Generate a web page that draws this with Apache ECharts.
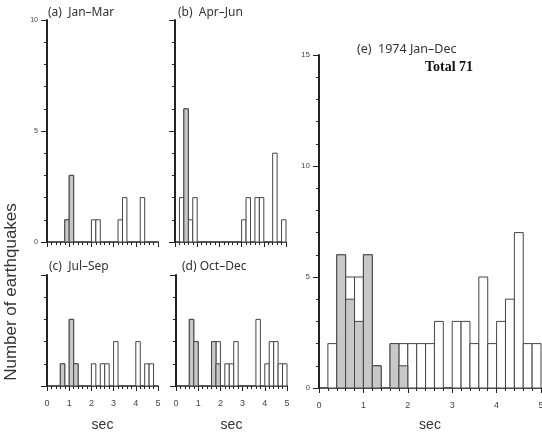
<!DOCTYPE html>
<html>
<head>
<meta charset="utf-8">
<script src="https://cdn.jsdelivr.net/npm/echarts@6/dist/echarts.min.js"></script>
<style>
html,body{margin:0;padding:0;background:#fff;}
#chart{width:542px;height:432px;}
</style>
</head>
<body>
<div id="chart"></div>
<script>
// Bin edges (sec), 0.2 s bins
var binEdges = [0,0.2,0.4,0.6,0.8,1.0,1.2,1.4,1.6,1.8,2.0,2.2,2.4,2.6,2.8,3.0,3.2,3.4,3.6,3.8,4.0,4.2,4.4,4.6,4.8,5.0];
var xTickLabels = ['0','1','2','3','4','5'];

// (a) Jan-Mar
var janMarAll  = [0,0,0,0,1,3,0,0,0,0,1,1,0,0,0,0,1,2,0,0,0,2,0,0,0];
var janMarGray = [0,0,0,0,1,3,0,0,0,0,0,0,0,0,0,0,0,0,0,0,0,0,0,0,0];
// (b) Apr-Jun
var aprJunAll  = [0,2,6,1,2,0,0,0,0,0,0,0,0,0,0,1,2,0,2,2,0,0,4,0,1];
var aprJunGray = [0,0,6,0,0,0,0,0,0,0,0,0,0,0,0,0,0,0,0,0,0,0,0,0,0];
// (c) Jul-Sep
var julSepAll  = [0,0,0,1,0,3,1,0,0,0,1,0,1,1,0,2,0,0,0,0,2,0,1,1,0];
var julSepGray = [0,0,0,1,0,3,1,0,0,0,0,0,0,0,0,0,0,0,0,0,0,0,0,0,0];
// (d) Oct-Dec
var octDecAll  = [0,0,0,3,2,0,0,0,2,2,0,1,1,2,0,0,0,0,3,0,1,2,2,1,1];
var octDecGray = [0,0,0,3,2,0,0,0,2,1,0,0,0,0,0,0,0,0,0,0,0,0,0,0,0];
// (e) 1974 Jan-Dec
var yearAll  = [0,2,6,5,5,6,1,0,2,2,2,2,2,3,0,3,3,2,5,2,3,4,7,2,2];
var yearGray = [0,0,6,4,3,6,1,0,2,1,0,0,0,0,0,0,0,0,0,0,0,0,0,0,0];

var panelTitles = ['(a)  Jan\u2013Mar','(b)  Apr\u2013Jun','(c)  Jul\u2013Sep','(d) Oct\u2013Dec','(e)  1974 Jan\u2013Dec'];
var totalLabel = 'Total 71';
var yTitle = 'Number of earthquakes';
var xTitle = 'sec';

function toRects(counts){
  var out = [];
  for (var i = 0; i < counts.length; i++) {
    if (counts[i] > 0) out.push([binEdges[i], binEdges[i+1], counts[i]]);
  }
  return out;
}

function makeRender(fill){
  return function(params, api){
    var p0 = api.coord([api.value(0), 0]);
    var p1 = api.coord([api.value(1), api.value(2)]);
    return {
      type:'rect',
      shape:{x:p0[0], y:p1[1], width:p1[0]-p0[0], height:p0[1]-p1[1]},
      style:{fill:fill, stroke:'#444', lineWidth:1}
    };
  };
}

var grids = [
  {left:47, top:20, width:111, height:222, outerBoundsMode:'none', containLabel:false},
  {left:175, top:20, width:111, height:222, outerBoundsMode:'none', containLabel:false},
  {left:47, top:275, width:111, height:111, outerBoundsMode:'none', containLabel:false},
  {left:176, top:275, width:111, height:111, outerBoundsMode:'none', containLabel:false},
  {left:319, top:55, width:222, height:333, outerBoundsMode:'none', containLabel:false}
];
var yMax = [10,10,5,5,15];
var showYLabels = [true,false,false,false,true];
var showXLabels = [false,false,true,true,true];

var xAxes = [], yAxes = [], series = [];
var allSets = [janMarAll, aprJunAll, julSepAll, octDecAll, yearAll];
var graySets = [janMarGray, aprJunGray, julSepGray, octDecGray, yearGray];

for (var k = 0; k < 5; k++) {
  xAxes.push({
    gridIndex:k, type:'value', min:0, max:5, interval:1,
    axisLine:{show:true, onZero:false, lineStyle:{color:'#222', width:1.5}},
    axisTick:{show:true, length:5, lineStyle:{color:'#222', width:1}},
    minorTick:{show:true, splitNumber:5, length:3, lineStyle:{color:'#222', width:1}},
    splitLine:{show:false},
    axisLabel:{show:showXLabels[k], fontSize:9, color:'#444', margin:13, fontFamily:'Liberation Sans',
      formatter:function(v){ return xTickLabels[Math.round(v)]; }},
    name: showXLabels[k] ? xTitle : '',
    nameLocation:'middle', nameGap: k===4 ? 30 : 32,
    nameTextStyle:{fontSize:14, color:'#333', fontFamily:'Liberation Sans'}
  });
  yAxes.push({
    gridIndex:k, type:'value', min:0, max:yMax[k], interval:5,
    axisLine:{show:true, onZero:false, lineStyle:{color:'#222', width:2}},
    axisTick:{show:true, length:6, lineStyle:{color:'#222', width:1}},
    minorTick:{show:true, splitNumber:5, length:3, lineStyle:{color:'#222', width:1}},
    splitLine:{show:false},
    axisLabel:{show:showYLabels[k], fontSize:k===4?8:7, color:'#444', margin:9, fontFamily:'Liberation Sans'}
  });
  series.push({
    type:'custom', xAxisIndex:k, yAxisIndex:k, renderItem:makeRender('#ffffff'),
    encode:{x:[0,1], y:2}, data:toRects(allSets[k]), z:2, silent:true
  });
  series.push({
    type:'custom', xAxisIndex:k, yAxisIndex:k, renderItem:makeRender('#c8c8c8'),
    encode:{x:[0,1], y:2}, data:toRects(graySets[k]), z:3, silent:true
  });
}

var graphics = [
  {type:'text', left:48, top:7, style:{text:panelTitles[0], font:'12px "Noto Sans"', fill:'#333'}},
  {type:'text', left:178, top:7, style:{text:panelTitles[1], font:'12px "Noto Sans"', fill:'#333'}},
  {type:'text', left:49, top:261, style:{text:panelTitles[2], font:'12px "Noto Sans"', fill:'#333'}},
  {type:'text', left:182, top:261, style:{text:panelTitles[3], font:'12px "Noto Sans"', fill:'#333'}},
  {type:'text', left:357, top:43, style:{text:panelTitles[4], font:'12.5px "Noto Sans"', fill:'#333'}},
  {type:'text', left:425, top:60, style:{text:totalLabel, font:'bold 14px "Liberation Serif"', fill:'#111'}},
  {type:'text', x:11, y:292, rotation:Math.PI/2,
   style:{text:yTitle, font:'17px "Liberation Sans"', fill:'#333', align:'center', verticalAlign:'middle'}}
];

var chart = echarts.init(document.getElementById('chart'), null, {renderer:'canvas'});
chart.setOption({
  animation:false,
  backgroundColor:'#fff',
  grid:grids,
  xAxis:xAxes,
  yAxis:yAxes,
  series:series,
  graphic:graphics
});
</script>
</body>
</html>
